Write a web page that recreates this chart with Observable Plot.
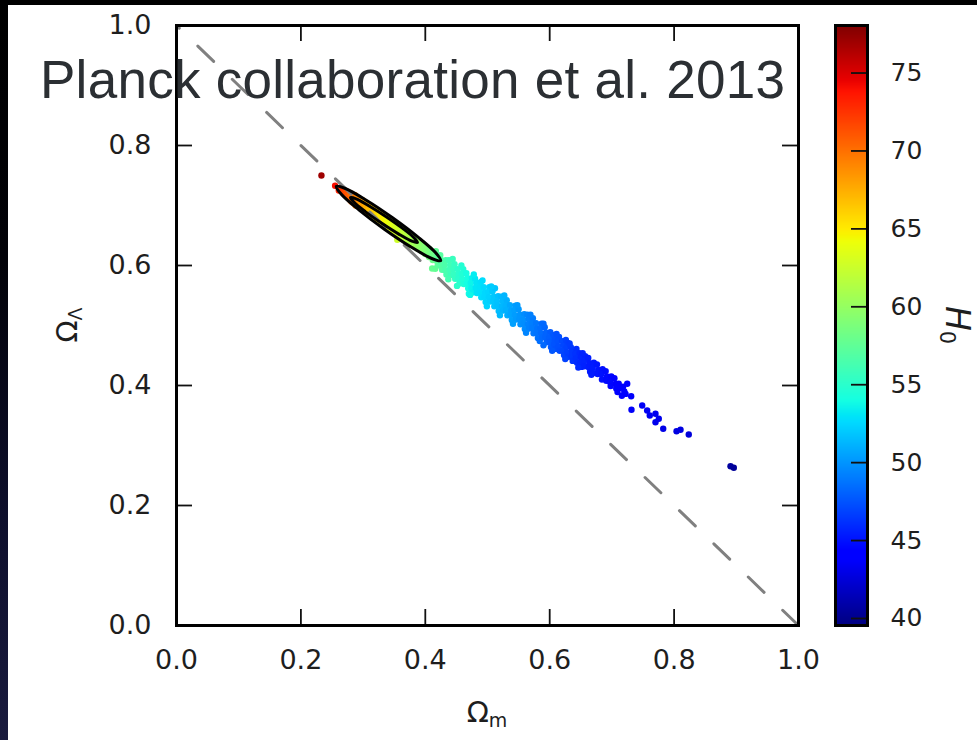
<!DOCTYPE html>
<html>
<head>
<meta charset="utf-8">
<script src="https://cdn.jsdelivr.net/npm/d3@7"></script>
<script src="https://cdn.jsdelivr.net/npm/@observablehq/plot@0.6"></script>
<style>
  html, body { margin: 0; padding: 0; background: #000; }
  #page {
    position: relative; width: 977px; height: 740px; overflow: hidden;
    background: linear-gradient(to bottom, #000 0%, #020208 35%, #0e0f2c 70%, #1a1b3e 100%);
  }
  #panel { position: absolute; left: 8px; top: 5px; right: 0; bottom: 0; background: #fff; }
  #main { position: absolute; left: 0; top: 0; }
  #cbar { position: absolute; left: 800px; top: 0; }
</style>
</head>
<body>
<div id="page">
  <div id="panel"></div>
  <div id="main"></div>
  <div id="cbar"></div>
</div>
<script>
// ---- chart values ----
const titleText = "Planck collaboration et al. 2013";

const axisTicks = [0, 0.2, 0.4, 0.6, 0.8, 1.0];
const innerTicks = [0.2, 0.4, 0.6, 0.8];

const h0Domain = [39.55, 78.05];
const h0Ticks = [40, 45, 50, 55, 60, 65, 70, 75];

// flat universe: Omega_Lambda = 1 - Omega_m
const flatUniverse = [[1, 0], [0, 1]];

// MCMC samples [Omega_m, Omega_Lambda, H0] inside the Planck contours
const contourSamples = [
  [0.233,0.750,77.0],[0.255,0.733,74.0],[0.261,0.725,73.2],[0.269,0.720,72.5],
  [0.262,0.729,73.0],
  [0.267,0.727,72.2],[0.269,0.721,71.8],
  [0.273,0.724,71.2],[0.275,0.716,70.9],
  [0.279,0.721,70.3],[0.281,0.714,70.1],[0.280,0.708,70.2],
  [0.287,0.717,69.4],[0.285,0.710,69.6],[0.286,0.703,69.5],
  [0.2825,0.7055,69.8],[0.288,0.700,69.3],
  [0.291,0.713,68.9],[0.293,0.706,68.8],[0.292,0.699,68.7],
  [0.299,0.709,68.1],[0.297,0.702,68.2],[0.298,0.695,68.0],
  [0.303,0.705,67.5],[0.305,0.698,67.4],[0.304,0.690,67.3],
  [0.311,0.700,66.8],[0.309,0.693,66.9],[0.310,0.686,66.7],
  [0.315,0.696,66.3],[0.317,0.689,66.2],[0.316,0.681,66.1],
  [0.323,0.692,65.6],[0.321,0.684,65.7],[0.322,0.677,65.5],
  [0.327,0.687,65.1],[0.329,0.680,65.0],[0.328,0.673,64.9],
  [0.335,0.683,64.5],[0.333,0.676,64.6],[0.334,0.668,64.4],
  [0.339,0.678,64.1],[0.341,0.671,64.0],[0.340,0.664,63.9],
  [0.347,0.674,63.5],[0.345,0.667,63.6],[0.346,0.659,63.4],
  [0.351,0.669,63.1],[0.353,0.662,63.0],[0.352,0.655,62.9],
  [0.355,0.643,62.6],
  [0.359,0.665,62.5],[0.357,0.658,62.6],[0.358,0.650,62.4],
  [0.363,0.660,62.1],[0.365,0.653,62.0],[0.364,0.646,61.9],
  [0.371,0.656,61.5],[0.369,0.649,61.6],[0.370,0.641,61.4],
  [0.372,0.633,61.3],
  [0.375,0.651,61.1],[0.377,0.644,61.0],[0.376,0.637,60.9],
  [0.383,0.647,60.5],[0.381,0.640,60.6],[0.382,0.632,60.4],
  [0.387,0.642,60.1],[0.389,0.635,60.0],[0.388,0.628,59.9],
  [0.395,0.637,59.5],[0.393,0.631,59.6],[0.394,0.624,59.4],
  [0.399,0.632,59.1],[0.401,0.626,59.0],[0.400,0.619,58.9],
  [0.407,0.627,58.6],[0.405,0.621,58.7],[0.406,0.614,58.5],
  [0.411,0.622,58.3],[0.413,0.616,58.2],[0.412,0.609,58.1],
  [0.411,0.595,57.8],[0.416,0.5945,57.6]
];

// samples along the degeneracy band beyond the contours
const bandSamples = [
  [0.417,0.624,57.6],[0.419,0.616,57.5],[0.418,0.608,57.5],[0.420,0.600,57.4],
  [0.424,0.617,57.1],[0.426,0.609,57.0],[0.425,0.601,57.0],[0.427,0.593,56.9],
  [0.433,0.609,56.5],[0.431,0.601,56.6],[0.432,0.592,56.5],[0.434,0.585,56.4],
  [0.438,0.609,56.1],[0.440,0.601,56.0],[0.439,0.593,56.0],[0.441,0.584,55.9],
  [0.447,0.602,55.5],[0.445,0.594,55.6],[0.446,0.585,55.5],[0.448,0.578,55.4],
  [0.452,0.594,55.1],[0.454,0.586,55.0],[0.453,0.578,55.0],[0.455,0.570,54.9],
  [0.461,0.594,54.5],[0.459,0.586,54.6],[0.460,0.577,54.5],[0.462,0.569,54.4],
  [0.466,0.587,54.1],[0.468,0.579,54.0],[0.467,0.571,54.0],[0.469,0.562,53.9],
  [0.470,0.553,53.8],
  [0.475,0.579,53.5],[0.473,0.571,53.6],[0.474,0.562,53.5],[0.476,0.555,53.4],
  [0.480,0.578,53.1],[0.482,0.571,53.0],[0.481,0.563,53.0],[0.483,0.554,52.9],
  [0.489,0.572,52.8],[0.487,0.563,52.9],[0.488,0.556,52.8],[0.490,0.547,52.7],
  [0.494,0.564,52.6],[0.496,0.555,52.5],[0.495,0.548,52.5],[0.497,0.539,52.4],
  [0.503,0.564,52.3],[0.501,0.556,52.4],[0.502,0.547,52.3],[0.504,0.540,52.2],
  [0.508,0.557,52.0],[0.510,0.548,51.9],[0.509,0.541,51.9],[0.511,0.532,51.8],
  [0.512,0.562,51.8],
  [0.517,0.549,51.6],[0.515,0.540,51.7],[0.516,0.533,51.6],[0.518,0.524,51.5],
  [0.522,0.548,51.4],[0.524,0.541,51.3],[0.523,0.532,51.3],[0.525,0.525,51.2],
  [0.531,0.542,51.0],[0.529,0.533,51.1],[0.530,0.526,51.0],[0.532,0.517,50.9],
  [0.536,0.534,50.7],[0.538,0.525,50.6],[0.537,0.518,50.6],[0.539,0.509,50.5],
  [0.545,0.533,50.3],[0.543,0.526,50.4],[0.544,0.517,50.3],[0.546,0.510,50.2],
  [0.550,0.527,50.1],[0.552,0.518,50.0],[0.551,0.511,50.0],[0.553,0.502,49.9],
  [0.559,0.519,49.7],[0.557,0.510,49.8],[0.558,0.503,49.7],[0.560,0.494,49.6],
  [0.564,0.518,49.4],[0.566,0.511,49.3],[0.565,0.502,49.3],[0.567,0.495,49.2],
  [0.573,0.512,49.0],[0.571,0.503,49.1],[0.572,0.496,49.0],[0.574,0.487,48.9],
  [0.578,0.504,48.8],[0.580,0.495,48.7],[0.579,0.488,48.7],[0.581,0.479,48.6],
  [0.584,0.474,48.5],
  [0.587,0.503,48.4],[0.585,0.496,48.5],[0.586,0.487,48.4],[0.588,0.480,48.3],
  [0.592,0.497,48.2],[0.594,0.488,48.1],[0.593,0.481,48.1],[0.595,0.472,48.0],
  [0.601,0.489,47.8],[0.599,0.480,47.9],[0.600,0.473,47.8],[0.602,0.464,47.7],
  [0.606,0.484,47.6],[0.608,0.476,47.5],[0.607,0.469,47.5],[0.609,0.461,47.4],
  [0.615,0.481,47.3],[0.613,0.474,47.4],[0.614,0.465,47.3],[0.616,0.458,47.2],
  [0.620,0.474,47.1],[0.622,0.467,47.0],[0.621,0.458,47.0],[0.623,0.451,46.9],
  [0.626,0.476,46.8],
  [0.629,0.471,46.7],[0.627,0.464,46.8],[0.628,0.455,46.7],[0.630,0.448,46.6],
  [0.634,0.464,46.5],[0.636,0.457,46.4],[0.635,0.448,46.4],[0.637,0.441,46.3],
  [0.643,0.461,46.1],[0.641,0.453,46.2],[0.642,0.445,46.1],[0.644,0.438,46.0],
  [0.648,0.454,45.9],[0.650,0.447,45.8],[0.649,0.438,45.8],[0.651,0.431,45.7],
  [0.657,0.449,45.6],[0.655,0.440,45.7],[0.656,0.432,45.6],
  [0.662,0.446,45.5],[0.664,0.437,45.4],[0.663,0.430,45.4],[0.665,0.423,45.3],
  [0.671,0.438,45.3],[0.669,0.430,45.4],[0.670,0.421,45.3],
  [0.676,0.435,45.2],[0.678,0.426,45.1],[0.677,0.419,45.1],
  [0.685,0.427,44.9],[0.683,0.419,45.0],[0.684,0.410,44.9],
  [0.690,0.424,44.8],[0.692,0.415,44.7],[0.691,0.408,44.7],
  [0.699,0.415,44.5],[0.697,0.406,44.6],[0.698,0.399,44.5],
  [0.704,0.412,44.4],[0.706,0.403,44.3],[0.707,0.395,44.2],
  [0.711,0.403,44.2],[0.713,0.396,44.1],[0.709,0.389,44.2],
  [0.718,0.398,44.0],[0.720,0.390,43.9],[0.716,0.383,44.0],[0.722,0.386,43.9],
  [0.7246,0.4028,43.9]
];

// scattered samples on the band's upper and lower edges
const edgeSamples = [
  [0.444,0.611,55.7],[0.458,0.600,54.7],[0.478,0.585,53.3],[0.492,0.575,52.7],
  [0.506,0.565,52.1],[0.527,0.550,51.2],[0.548,0.534,50.2],[0.569,0.518,49.2],
  [0.590,0.503,48.3],[0.611,0.486,47.4],[0.632,0.470,46.6],[0.653,0.454,45.7],
  [0.437,0.577,56.2],[0.451,0.566,55.1],[0.472,0.551,53.7],[0.499,0.532,52.4],
  [0.520,0.517,51.4],[0.541,0.503,50.4],[0.562,0.488,49.4],[0.590,0.467,48.3],
  [0.604,0.458,47.6],[0.625,0.444,46.8],[0.646,0.430,45.9],[0.667,0.418,45.3]
];

// sparse low-H0 tail
const tailSamples = [
  [0.731,0.382,43.7],[0.7315,0.3595,43.6],[0.7487,0.3667,43.5],[0.7567,0.3583,43.4],
  [0.7609,0.350,43.3],[0.7701,0.3528,43.3],[0.7754,0.3445,43.2],[0.7701,0.3388,43.2],
  [0.7825,0.3278,43.0],[0.8039,0.3238,42.8],[0.8103,0.3262,42.8],[0.8236,0.3183,42.6],
  [0.8907,0.2655,40.6],[0.8960,0.2628,40.4]
];

// 95% and 68% contours [Omega_m, Omega_Lambda]
const contour95 = [
  [0.4248,0.6082],[0.4103,0.6117],[0.3772,0.6308],[0.3342,0.6605],
  [0.2932,0.6928],[0.2650,0.7187],[0.2569,0.7318],[0.2714,0.7283],
  [0.3045,0.7092],[0.3474,0.6795],[0.3884,0.6472],[0.4167,0.6212]
];
const contour68 = [
  [0.3875,0.6383],[0.3785,0.6405],[0.3574,0.6523],[0.3301,0.6703],
  [0.3035,0.6898],[0.2850,0.7057],[0.2797,0.7133],[0.2887,0.7112],
  [0.3098,0.6993],[0.3371,0.6813],[0.3637,0.6618],[0.3822,0.6460]
];

// jet colormap segments [position, value]
const jetRed   = [[0,0],[0.35,0],[0.66,1],[0.89,1],[1,0.5]];
const jetGreen = [[0,0],[0.125,0],[0.375,1],[0.64,1],[0.91,0],[1,0]];
const jetBlue  = [[0,0.5],[0.11,1],[0.34,1],[0.65,0],[1,0]];

// ---- drawing ----
function segment(stops, t) {
  t = Math.max(0, Math.min(1, t));
  for (let i = 1; i < stops.length; i++) {
    const [t0, v0] = stops[i - 1], [t1, v1] = stops[i];
    if (t <= t1) return v0 + (v1 - v0) * (t - t0) / (t1 - t0);
  }
  return stops[stops.length - 1][1];
}
const jet = (t) => d3.rgb(
  255 * segment(jetRed, t), 255 * segment(jetGreen, t), 255 * segment(jetBlue, t)
).toString();

const colorOpts = {type: "linear", domain: h0Domain, interpolate: jet};
const samples = contourSamples.concat(bandSamples, edgeSamples, tailSamples);

const W = 800, H = 740, mL = 176, mR = 2, mT = 25, mB = 115;
const tickPx = 16;
const tickX = tickPx / (W - mL - mR);
const tickY = tickPx / (H - mT - mB);
const fmt = d3.format(".1f");
const baseStyle = {background: "transparent", overflow: "visible", fontFamily: "'DejaVu Sans', sans-serif", color: "#1e1e1e"};

const main = Plot.plot({
  width: W, height: H,
  marginLeft: mL, marginRight: mR, marginTop: mT, marginBottom: mB,
  style: {...baseStyle, fontSize: "27px"},
  x: {domain: [0, 1]},
  y: {domain: [0, 1]},
  color: colorOpts,
  marks: [
    Plot.dot(samples, {x: d => d[0], y: d => d[1], fill: d => d[2], r: 3.2}),
    Plot.line(flatUniverse, {x: d => d[0], y: d => d[1], stroke: "#808080", strokeWidth: 3, strokeDasharray: "22 25.8"}),
    Plot.line(contour95, {x: d => d[0], y: d => d[1], curve: "catmull-rom-closed", stroke: "#000", strokeWidth: 3}),
    Plot.line(contour68, {x: d => d[0], y: d => d[1], curve: "catmull-rom-closed", stroke: "#000", strokeWidth: 3}),
    Plot.ruleX(innerTicks, {x: d => d, y1: 0, y2: tickY, stroke: "#111", strokeWidth: 1.8}),
    Plot.ruleX(innerTicks, {x: d => d, y1: 1, y2: 1 - tickY, stroke: "#111", strokeWidth: 1.8}),
    Plot.ruleY(innerTicks, {y: d => d, x1: 0, x2: tickX, stroke: "#111", strokeWidth: 1.8}),
    Plot.ruleY(innerTicks, {y: d => d, x1: 1, x2: 1 - tickX, stroke: "#111", strokeWidth: 1.8}),
    Plot.frame({stroke: "#000", strokeWidth: 3}),
    Plot.axisX({ticks: axisTicks, tickFormat: fmt, tickSize: 0, tickPadding: 24, label: null}),
    Plot.axisY({ticks: axisTicks, tickFormat: fmt, tickSize: 0, tickPadding: 25, label: null})
  ]
});
document.getElementById("main").appendChild(main);

const svgMain = d3.select(main);
// x-axis label: Omega_m
const xl = svgMain.append("text")
  .attr("x", (mL + W - mR) / 2).attr("y", 722)
  .attr("text-anchor", "middle").attr("fill", "#1e1e1e")
  .attr("font-family", "'DejaVu Sans', sans-serif").attr("font-size", 29);
xl.append("tspan").text("Ω");
xl.append("tspan").attr("font-size", 19).attr("dy", 5).text("m");
// y-axis label: Omega_Lambda
const yl = svgMain.append("text")
  .attr("transform", `translate(77,${(mT + H - mB) / 2}) rotate(-90)`)
  .attr("text-anchor", "middle").attr("fill", "#1e1e1e")
  .attr("font-family", "'DejaVu Sans', sans-serif").attr("font-size", 29);
yl.append("tspan").text("Ω");
yl.append("tspan").attr("font-size", 19).attr("dy", 5).text("Λ");
// overlay title
svgMain.append("text")
  .attr("x", 40).attr("y", 98)
  .attr("text-anchor", "start")
  .attr("font-family", "'Liberation Sans', Arial, sans-serif")
  .attr("font-size", 53).attr("letter-spacing", "0.27px")
  .attr("fill", "#2b2f33")
  .text(titleText);

// ---- colorbar ----
const cbar = Plot.plot({
  width: 177, height: H,
  marginLeft: 35, marginRight: 110, marginTop: mT, marginBottom: mB,
  style: {...baseStyle, fontSize: "25px"},
  x: {domain: [0, 1], axis: null},
  y: {domain: h0Domain},
  color: colorOpts,
  marks: [
    Plot.raster({fill: (x, y) => y, x1: 0, x2: 1, y1: h0Domain[0], y2: h0Domain[1], width: 1, height: 512}),
    Plot.ruleY(h0Ticks, {y: d => d, x1: 0.5, x2: 1, stroke: "#111", strokeWidth: 1.8}),
    Plot.frame({stroke: "#000", strokeWidth: 3}),
    Plot.axisY({anchor: "right", ticks: h0Ticks, tickSize: 0, tickPadding: 23, label: null})
  ]
});
document.getElementById("cbar").appendChild(cbar);

const hl = d3.select(cbar).append("text")
  .attr("transform", `translate(146,${(mT + H - mB) / 2}) rotate(90)`)
  .attr("text-anchor", "middle").attr("fill", "#1e1e1e")
  .attr("font-family", "'DejaVu Sans', sans-serif");
hl.append("tspan").attr("font-size", 33).attr("font-style", "italic").text("H");
hl.append("tspan").attr("font-size", 21).attr("dy", 6).text("0");
</script>
</body>
</html>
